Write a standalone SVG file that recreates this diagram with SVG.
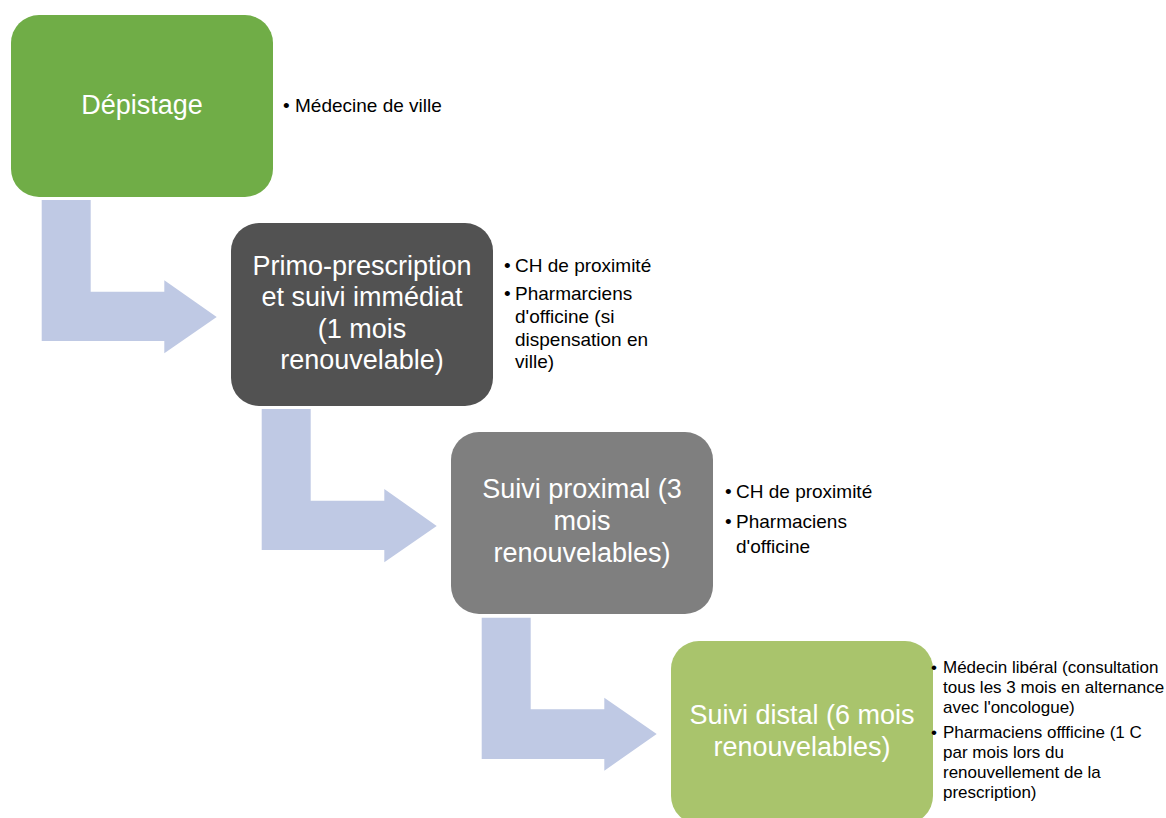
<svg xmlns="http://www.w3.org/2000/svg" width="1166" height="818" viewBox="0 0 1166 818">
<style>
.box-t{font-family:"Liberation Sans",Arial,sans-serif;font-size:27px;fill:#ffffff;text-anchor:middle}
.bul{font-family:"Liberation Sans",Arial,sans-serif;font-size:19px;fill:#000000}
.bul-s{font-family:"Liberation Sans",Arial,sans-serif;font-size:17px;fill:#000000}
.arrow{fill:#BFC9E4}
</style>
<rect width="1166" height="818" fill="#ffffff"/>
<g id="connectors">
<path class="arrow" d="M41.7,200 H90.7 V291.7 H164.3 V280.3 L216.7,317 L164.3,353.3 V341 H41.7 Z"/>
<path class="arrow" d="M261.7,409 H310.7 V500.7 H384.3 V489 L436.7,526 L384.3,562.3 V550 H261.7 Z"/>
<path class="arrow" d="M481.7,617.7 H530.7 V709.3 H604.3 V697.7 L656.7,734 L604.3,770.7 V759 H481.7 Z"/>
</g>
<g id="node-depistage">
<rect x="11" y="15" width="262" height="182" rx="28" fill="#70AD47"/>
<text class="box-t" x="142" y="114">Dépistage</text>
<text class="bul"><tspan x="283" y="112">•</tspan><tspan x="295" y="112">Médecine de ville</tspan></text>
</g>
<g id="node-primo">
<rect x="231" y="223" width="262" height="183" rx="28" fill="#525252"/>
<text class="box-t"><tspan x="362" y="275">Primo-prescription</tspan><tspan x="362" y="306">et suivi immédiat</tspan><tspan x="362" y="338">(1 mois</tspan><tspan x="362" y="369">renouvelable)</tspan></text>
<text class="bul"><tspan x="504" y="272">•</tspan><tspan x="515" y="272">CH de proximité</tspan><tspan x="504" y="300">•</tspan><tspan x="515" y="300">Pharmarciens</tspan><tspan x="515" y="323">d'officine (si</tspan><tspan x="515" y="346">dispensation en</tspan><tspan x="515" y="368">ville)</tspan></text>
</g>
<g id="node-proximal">
<rect x="451" y="432" width="262" height="182" rx="28" fill="#7F7F7F"/>
<text class="box-t"><tspan x="582" y="498">Suivi proximal (3</tspan><tspan x="582" y="530">mois</tspan><tspan x="582" y="562">renouvelables)</tspan></text>
<text class="bul"><tspan x="725" y="498">•</tspan><tspan x="736" y="498">CH de proximité</tspan><tspan x="725" y="528">•</tspan><tspan x="736" y="528">Pharmaciens</tspan><tspan x="736" y="553">d'officine</tspan></text>
</g>
<g id="node-distal">
<rect x="671" y="641" width="262" height="183" rx="28" fill="#A9C46C"/>
<text class="box-t"><tspan x="802" y="724">Suivi distal (6 mois</tspan><tspan x="802" y="756">renouvelables)</tspan></text>
<text class="bul-s"><tspan x="931" y="673">•</tspan><tspan x="943" y="673">Médecin libéral (consultation</tspan><tspan x="943" y="693">tous les 3 mois en alternance</tspan><tspan x="943" y="713">avec l'oncologue)</tspan><tspan x="931" y="738">•</tspan><tspan x="943" y="738">Pharmaciens offficine (1 C</tspan><tspan x="943" y="758">par mois lors du</tspan><tspan x="943" y="778">renouvellement de la</tspan><tspan x="943" y="798">prescription)</tspan></text>
</g>
</svg>
